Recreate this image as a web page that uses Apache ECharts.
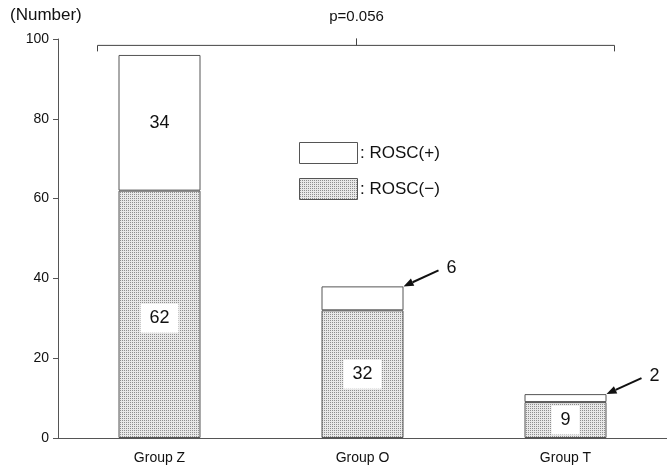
<!DOCTYPE html>
<html><head><meta charset="utf-8">
<script src="https://cdn.jsdelivr.net/npm/echarts@6/dist/echarts.min.js"></script>
<style>html,body{margin:0;padding:0;background:#fff}#c{width:667px;height:467px}</style>
</head><body><div id="c"></div>
<script>
var categories = ['Group Z', 'Group O', 'Group T'];
var roscNeg = [62, 32, 9];
var roscPos = [34, 6, 2];
var yTicks = [0, 20, 40, 60, 80, 100];
var pText = 'p=0.056';
var legendPos = ': ROSC(+)';
var legendNeg = ': ROSC(\u2212)';

var pc = document.createElement('canvas');
pc.width = 2; pc.height = 2;
var pctx = pc.getContext('2d');
pctx.fillStyle = '#e8e8e8'; pctx.fillRect(0,0,2,2);
pctx.fillStyle = '#8e8e8e'; pctx.fillRect(0,0,1,1);
var dotPattern = {image: pc, repeat: 'repeat'};

var FONT = 'Liberation Sans, Arial, sans-serif';
var BORDER = '#555';
var BW = 82;

var chart = echarts.init(document.getElementById('c'), null, {renderer: 'canvas'});
var option = {
  animation: false,
  backgroundColor: '#fff',
  textStyle: {fontFamily: FONT},
  grid: {left: 58, right: -3, top: 39, bottom: 29},
  xAxis: {
    type: 'category', data: categories,
    axisLine: {lineStyle: {color: BORDER, width: 1}},
    axisTick: {show: false},
    axisLabel: {color: '#111', fontSize: 14, margin: 13, fontFamily: FONT}
  },
  yAxis: {
    type: 'value', min: yTicks[0], max: yTicks[yTicks.length-1], interval: 20,
    axisLine: {show: true, lineStyle: {color: BORDER, width: 1}},
    axisTick: {show: true, length: 5, lineStyle: {color: BORDER}},
    splitLine: {show: false},
    axisLabel: {color: '#111', fontSize: 14, margin: 9, fontFamily: FONT}
  },
  series: [
    {
      name: 'ROSC(-)', type: 'bar', stack: 's', barWidth: BW,
      data: roscNeg.map(function(v, i){
        return {value: v, label: {offset: i === 0 ? [0, 4] : [0, 0]}};
      }),
      itemStyle: {color: dotPattern, borderColor: BORDER, borderWidth: 1},
      label: {show: true, position: 'inside', color: '#111', fontSize: 18, fontFamily: FONT,
        backgroundColor: '#fff', padding: [6, 9, 5, 9]}
    },
    {
      name: 'ROSC(+)', type: 'bar', stack: 's', barWidth: BW,
      data: roscPos.map(function(v, i){
        return {value: v, label: {show: i === 0}};
      }),
      itemStyle: {color: '#fff', borderColor: BORDER, borderWidth: 1},
      label: {show: true, position: 'inside', color: '#111', fontSize: 18, fontFamily: FONT}
    }
  ]
};
chart.setOption(option);

function px(cat, val){ return chart.convertToPixel({xAxisIndex:0, yAxisIndex:0}, [cat, val]); }
function arrow(x0, y0, x1, y1){
  var ang = Math.atan2(y1-y0, x1-x0), L = 10, W = 4;
  var bx = x1 - L*Math.cos(ang), by = y1 - L*Math.sin(ang);
  var nx = -Math.sin(ang)*W, ny = Math.cos(ang)*W;
  return [
    {type:'line', shape:{x1:x0,y1:y0,x2:bx,y2:by}, style:{stroke:'#111', lineWidth:2}},
    {type:'polygon', shape:{points:[[x1,y1],[bx+nx,by+ny],[bx-nx,by-ny]]}, style:{fill:'#111'}}
  ];
}

var g = [];
g.push({type:'text', left: 10, top: 7, style:{text:'(Number)', font:'17px '+FONT, fill:'#111'}});
var pO = px(categories[1], 98.4);
var yb = pO[1];
var pZ = px(categories[0], 0), pT = px(categories[2], 0);
var xl = pZ[0] - 62, xr = pT[0] + 49, xc = pO[0] - 6;
g.push({type:'polyline', shape:{points:[[xl, yb+6],[xl, yb],[xr, yb],[xr, yb+6]]}, style:{stroke:'#444', lineWidth:1, fill:null}});
g.push({type:'line', shape:{x1:xc, y1:yb, x2:xc, y2:yb-7}, style:{stroke:'#444', lineWidth:1}});
g.push({type:'text', x: xc, y: 17, style:{text:pText, font:'15px '+FONT, fill:'#111', textAlign:'center', textVerticalAlign:'middle'}});
g.push({type:'rect', shape:{x:299.5, y:142.5, width:58, height:21}, style:{fill:'#fff', stroke:BORDER, lineWidth:1}});
g.push({type:'text', x: 360, y: 153, style:{text:legendPos, font:'17px '+FONT, fill:'#111', textVerticalAlign:'middle'}});
g.push({type:'rect', shape:{x:299.5, y:178.5, width:58, height:21}, style:{fill:dotPattern, stroke:BORDER, lineWidth:1}});
g.push({type:'text', x: 360, y: 189, style:{text:legendNeg, font:'17px '+FONT, fill:'#111', textVerticalAlign:'middle'}});
[1, 2].forEach(function(i){
  var top = px(categories[i], roscNeg[i] + roscPos[i]);
  var tx = top[0] + BW/2, ty = top[1];
  g = g.concat(arrow(tx + 35, ty - 16, tx, ty));
  g.push({type:'text', x: tx + 48, y: ty - 18, style:{text:String(roscPos[i]), font:'18px '+FONT, fill:'#111', textAlign:'center', textVerticalAlign:'middle'}});
});
chart.setOption({graphic: g});
</script>
</body></html>
